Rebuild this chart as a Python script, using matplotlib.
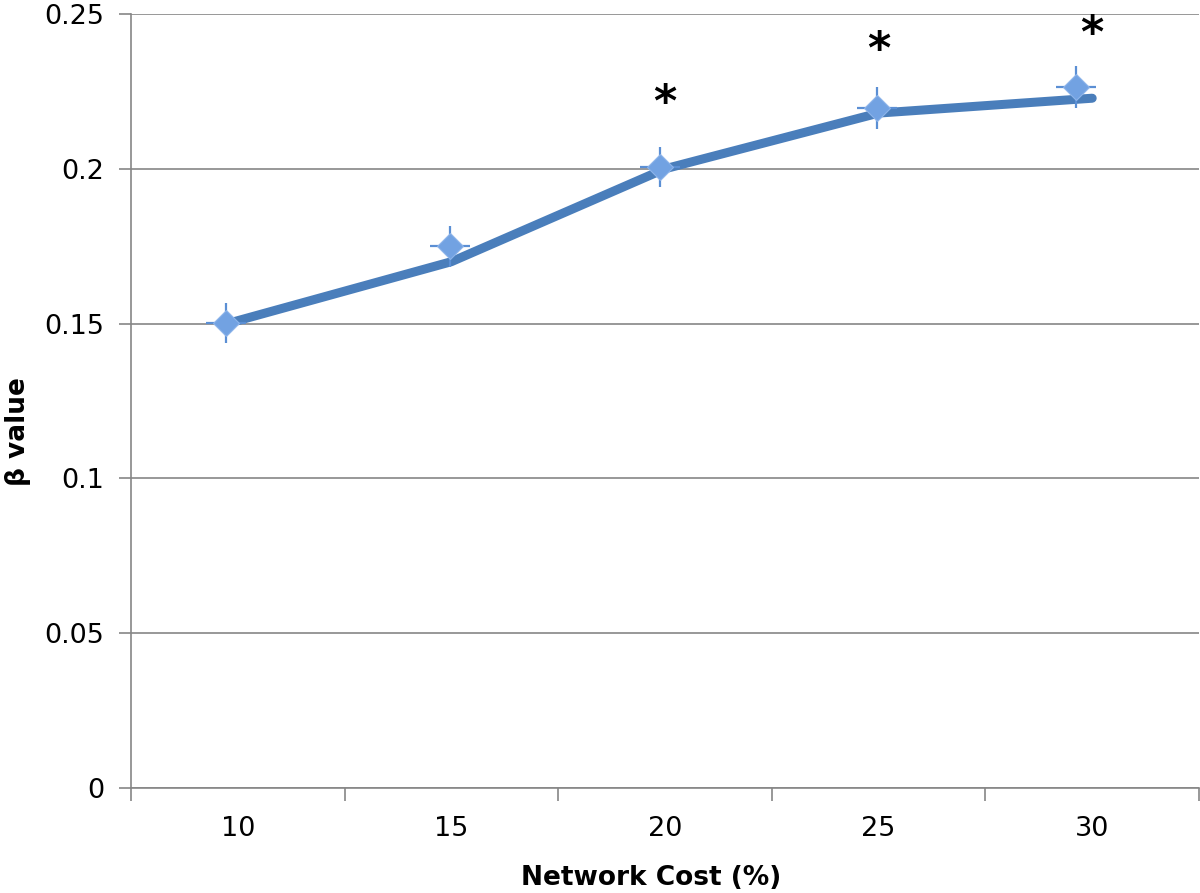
import numpy as np
import matplotlib
matplotlib.use("Agg")
import matplotlib.pyplot as plt

plt.rcParams["font.family"] = ["DejaVu Sans"]

# data
cost = [10, 15, 20, 25, 30]
line_x = [9.75, 15, 20, 25, 30]
line_y = [0.150, 0.170, 0.200, 0.218, 0.2228]
mark_x = [9.72, 14.97, 19.88, 24.96, 29.62]
mark_y = [0.1502, 0.175, 0.2006, 0.2196, 0.2264]
x_err = [0.47, 0.47, 0.47, 0.47, 0.47]
y_err = [0.0066, 0.0066, 0.0066, 0.0068, 0.0068]
star_x = [20, 25, 30]
star_y = [0.2212, 0.2382, 0.2435]

fig = plt.figure(figsize=(12, 8.93), dpi=100)
ax = fig.add_axes([131 / 1200, 1 - 788 / 893, 1068 / 1200, 774 / 893])

ax.plot(line_x, line_y, color="#4a7ebb", lw=6.5, solid_capstyle="round", zorder=3)
ax.errorbar(mark_x, mark_y, xerr=x_err, yerr=y_err, fmt="D", ms=13,
            color="#72a2e2", mec="#8db4ea", mew=0.8, ecolor="#5b8fd4",
            elinewidth=1.6, capsize=0, zorder=4)
for sx, sy in zip(star_x, star_y):
    ax.text(sx, sy, "*", ha="center", va="center", fontsize=32,
            fontweight="bold", color="black")

ax.set_xlim(7.5, 32.5)
ax.set_ylim(0, 0.25)
ax.set_yticks(np.arange(0, 0.251, 0.05))
ax.set_yticklabels(["0", "0.05", "0.1", "0.15", "0.2", "0.25"])
ax.set_xticks([7.5, 12.5, 17.5, 22.5, 27.5, 32.5])
ax.set_xticklabels([])
ax.set_xticks(cost, minor=True)
ax.set_xticklabels([str(c) for c in cost], minor=True)
ax.tick_params(axis="x", which="minor", length=0, pad=20, labelsize=19.5)
ax.tick_params(axis="x", which="major", length=9, color="#868686", width=1.2)
ax.tick_params(axis="y", length=9, color="#868686", width=1.2, pad=10, labelsize=19.5)

ax.grid(axis="y", color="#868686", lw=1.2)
ax.set_axisbelow(True)
for s in ["top", "right"]:
    ax.spines[s].set_visible(False)
for s in ["left", "bottom"]:
    ax.spines[s].set_color("#868686")
    ax.spines[s].set_linewidth(1.2)

ax.set_xlabel("Network Cost (%)", fontsize=19, fontweight="bold")
ax.set_ylabel("β value", fontsize=19, fontweight="bold")
ax.xaxis.set_label_coords(0.487, -0.1)
ax.yaxis.set_label_coords(-0.094, 0.46)

fig.savefig("out.png", dpi=100)
